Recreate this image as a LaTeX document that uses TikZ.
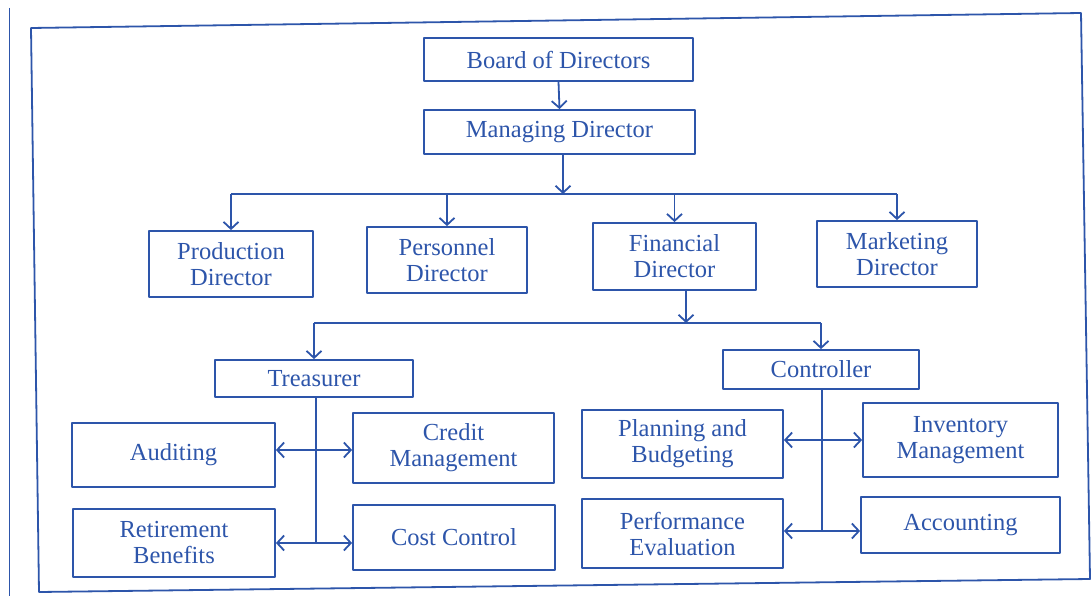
\documentclass[tikz,border=0pt]{standalone}
\usepackage{fontspec}
\setmainfont{Liberation Serif}
\usetikzlibrary{arrows.meta}
\definecolor{ink}{RGB}{45,85,170}
\begin{document}
\begin{tikzpicture}[x=1pt,y=-1pt,color=ink,line width=1.8pt,line join=round,
    >={Straight Barb[length=7pt,width=15pt]},
    box/.style={draw,align=center,inner sep=0pt,font=\fontsize{24.5}{26}\selectfont}]
  \useasboundingbox (0,0) rectangle (1091,596);
  \draw[line width=1pt] (9,8) -- (9,596);
  \draw (31,28) -- (1081,13) -- (1090,579) -- (39,592) -- cycle;
  % top
  \node[box,minimum width=269pt,minimum height=43pt] (board) at (558.5,59.5) {Board of Directors};
  \node[box,minimum width=271pt,minimum height=44pt] (md) at (559.5,132) {Managing Director};
  % directors
  \node[box,minimum width=164pt,minimum height=66pt] (prod) at (231,264) {Production\\Director};
  \node[box,minimum width=160pt,minimum height=66pt] (pers) at (447,260) {Personnel\\Director};
  \node[box,minimum width=163pt,minimum height=67pt] (fin) at (674.5,256.5) {Financial\\Director};
  \node[box,minimum width=160pt,minimum height=66pt] (mkt) at (897,254) {Marketing\\Director};
  % finance
  \node[box,minimum width=198pt,minimum height=37pt] (treas) at (314,378.5) {Treasurer};
  \node[box,minimum width=196pt,minimum height=39pt] (ctrl) at (821,369.5) {Controller};
  \node[box,minimum width=203pt,minimum height=64pt] (audit) at (173.5,455) {Auditing};
  \node[box,minimum width=201pt,minimum height=70pt] (credit) at (453.5,448) {Credit\\Management};
  \node[box,minimum width=202pt,minimum height=68pt] (retire) at (174,543) {Retirement\\Benefits};
  \node[box,minimum width=202pt,minimum height=65pt] (cost) at (454,537.5) {Cost Control};
  \node[box,minimum width=201pt,minimum height=68pt] (plan) at (682.5,444) {Planning and\\Budgeting};
  \node[box,minimum width=195pt,minimum height=74pt] (inv) at (960.5,440) {Inventory\\Management};
  \node[box,minimum width=201pt,minimum height=69pt] (perf) at (682.5,533.5) {Performance\\Evaluation};
  \node[box,minimum width=199pt,minimum height=56pt] (acct) at (960.5,525) {Accounting};
  % connectors
  \coordinate (dirbar) at (563,194);
  \coordinate (finbar) at (686,323);
  \coordinate (tjoin) at (316,450);
  \coordinate (tend) at (316,543);
  \coordinate (cjoin) at (822,440);
  \coordinate (cend) at (822,531);
  \draw[->] (board.south) -- (md.north);
  \draw[->] (md.south -| dirbar) -- (dirbar);
  \draw (prod.north |- dirbar) -- (mkt.north |- dirbar);
  \foreach \n in {prod,pers,fin,mkt}{
    \draw[->] (\n.north |- dirbar) -- (\n.north);
  }
  \draw[->] (fin.south -| finbar) -- (finbar);
  \draw (treas.north |- finbar) -- (ctrl.north |- finbar);
  \foreach \n in {treas,ctrl}{
    \draw[->] (\n.north |- finbar) -- (\n.north);
  }
  \draw (treas.south -| tend) -- (tend);
  \draw[<->] (audit.east |- tjoin) -- (credit.west |- tjoin);
  \draw[<->] (retire.east |- tend) -- (cost.west |- tend);
  \draw (ctrl.south -| cend) -- (cend);
  \draw[<->] (plan.east |- cjoin) -- (inv.west |- cjoin);
  \draw[<->] (perf.east |- cend) -- (acct.west |- cend);
\end{tikzpicture}
\end{document}
